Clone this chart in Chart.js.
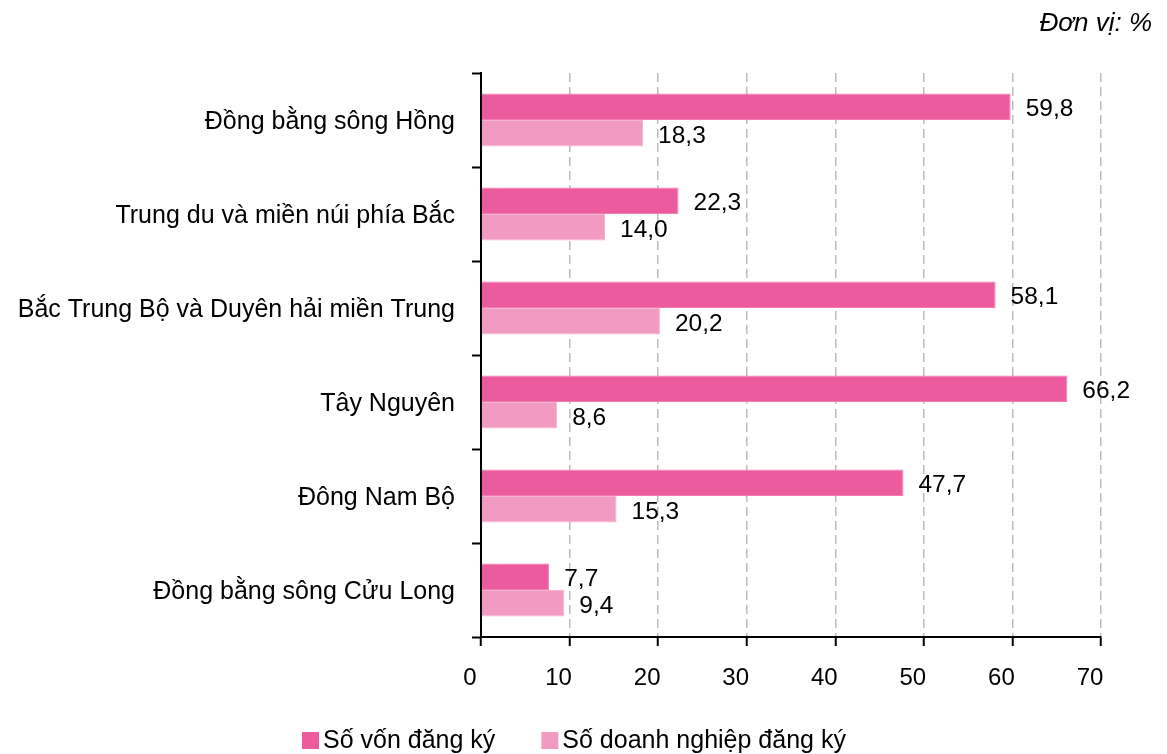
<!DOCTYPE html>
<html>
<head>
<meta charset="utf-8">
<script src="https://cdn.jsdelivr.net/npm/chart.js@4.4.1/dist/chart.umd.min.js"></script>
<style>
  html, body { margin: 0; padding: 0; background: #fff; }
  #wrap { width: 1167px; height: 754px; }
</style>
</head>
<body>
<div id="wrap"><canvas id="barChart"></canvas></div>
<script>
// Regions
const regions = [
    "Đồng bằng sông Hồng",
    "Trung du và miền núi phía Bắc",
    "Bắc Trung Bộ và Duyên hải miền Trung",
    "Tây Nguyên",
    "Đông Nam Bộ",
    "Đồng bằng sông Cửu Long"
];

// Series values (%)
const capitalShare = [59.8, 22.3, 58.1, 66.2, 47.7, 7.7];
const firmShare = [18.3, 14.0, 20.2, 8.6, 15.3, 9.4];

const seriesNames = ["Số vốn đăng ký", "Số doanh nghiệp đăng ký"];
const xTicks = [0, 10, 20, 30, 40, 50, 60, 70];

const FONT = "'Liberation Sans', Arial, sans-serif";

// Value labels at the end of each bar
const valueLabels = {
    id: "valueLabels",
    afterDatasetsDraw(chart) {
        const ctx = chart.ctx;
        ctx.save();
        ctx.font = "24.5px " + FONT;
        ctx.fillStyle = "#000";
        ctx.textBaseline = "middle";
        ctx.textAlign = "left";
        chart.data.datasets.forEach((ds, i) => {
            chart.getDatasetMeta(i).data.forEach((bar, j) => {
                const txt = ds.data[j].toFixed(1).replace(".", ",");
                ctx.fillText(txt, bar.x + 15, bar.y + 3);
            });
        });
        ctx.restore();
    }
};

// Unit note and legend
const extras = {
    id: "extras",
    afterDraw(chart) {
        const ctx = chart.ctx;
        ctx.save();
        ctx.font = "italic 26px " + FONT;
        ctx.fillStyle = "#000";
        ctx.textAlign = "right";
        ctx.textBaseline = "alphabetic";
        ctx.fillText("Đơn vị: %", 1152, 31);

        // legend
        ctx.font = "25px " + FONT;
        ctx.textAlign = "left";
        ctx.textBaseline = "middle";
        let x = 302;
        const y = 740;
        chart.data.datasets.forEach((ds) => {
            ctx.fillStyle = ds.backgroundColor;
            ctx.fillRect(x, y - 8, 17, 17);
            ctx.fillStyle = "#000";
            ctx.fillText(ds.label, x + 21, y + 1);
            x += 21 + ctx.measureText(ds.label).width + 46;
        });
        ctx.restore();
    }
};

const data = {
    labels: regions,
    datasets: [
        {
            label: seriesNames[0],
            data: capitalShare,
            backgroundColor: "#EC5B9D",
            borderColor: "#F07CB0",
            borderWidth: 1,
            categoryPercentage: 0.565,
            barPercentage: 1.0
        },
        {
            label: seriesNames[1],
            data: firmShare,
            backgroundColor: "#F29BC2",
            borderColor: "#F5B3D1",
            borderWidth: 1,
            categoryPercentage: 0.565,
            barPercentage: 1.0
        }
    ]
};

const config = {
    type: "bar",
    data: data,
    options: {
        indexAxis: "y",
        responsive: true,
        maintainAspectRatio: false,
        animation: false,
        layout: { padding: { top: 73, right: 66, bottom: 0, left: 0 } },
        plugins: {
            legend: { display: false },
            tooltip: { enabled: false }
        },
        scales: {
            x: {
                min: 0,
                max: 70,
                afterBuildTicks: (scale) => { scale.ticks = xTicks.map(v => ({ value: v })); },
                afterFit: (scale) => { scale.height = 117; },
                ticks: {
                    color: "#000",
                    font: { family: FONT, size: 24 },
                    padding: 18,
                    labelOffset: -11
                },
                grid: {
                    color: (c) => (c.tick && c.tick.value === 0) ? "rgba(0,0,0,0)" : "#BDBDBD",
                    lineWidth: 1.5,
                    tickColor: "#000",
                    tickLength: 9,
                    tickWidth: 2
                },
                border: { color: "#000", width: 2, dash: [9, 5] }
            },
            y: {
                afterFit: (scale) => { scale.width = 481; },
                ticks: {
                    color: "#000",
                    font: { family: FONT, size: 25 },
                    padding: 17,
                    labelOffset: 2
                },
                grid: {
                    drawOnChartArea: false,
                    tickColor: "#000",
                    tickLength: 9,
                    tickWidth: 2
                },
                border: { color: "#000", width: 2 }
            }
        }
    },
    plugins: [valueLabels, extras]
};

new Chart(document.getElementById("barChart").getContext("2d"), config);
</script>
</body>
</html>
